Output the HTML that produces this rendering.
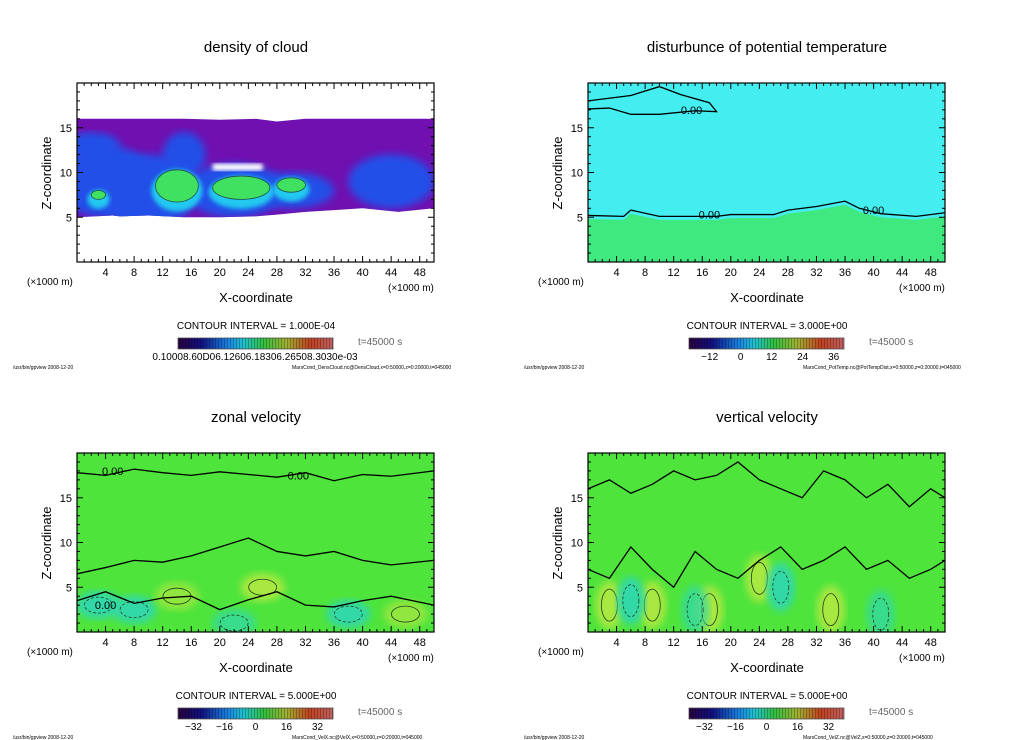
<!DOCTYPE html>
<html><head><meta charset="utf-8"><style>
html,body{margin:0;padding:0;background:#fff;}
svg{display:block;font-family:"Liberation Sans","DejaVu Sans",sans-serif;}
</style></head><body>
<svg id="fig" width="1024" height="740" viewBox="0 0 1024 740" xmlns="http://www.w3.org/2000/svg">
<defs>
<linearGradient id="cbar" x1="0" x2="1" y1="0" y2="0">
<stop offset="0" stop-color="#2a0040"/><stop offset="0.15" stop-color="#101080"/>
<stop offset="0.32" stop-color="#1880e0"/><stop offset="0.42" stop-color="#20c0d0"/>
<stop offset="0.55" stop-color="#30c040"/><stop offset="0.7" stop-color="#a0b030"/>
<stop offset="0.85" stop-color="#c04020"/><stop offset="1" stop-color="#c06060"/>
</linearGradient>
<pattern id="stripes" width="3" height="10" patternUnits="userSpaceOnUse"><rect x="2" width="1" height="10" fill="rgba(0,0,0,0.25)"/></pattern>
<filter id="blur4"><feGaussianBlur stdDeviation="4"/></filter>
<filter id="blur2"><feGaussianBlur stdDeviation="2"/></filter>
</defs>
</svg>
<script>
const xTicks=[4,8,12,16,20,24,28,32,36,40,44,48];
const yTicks=[5,10,15];
const xMin=0,xMax=50,zMin=0,zMax=20;
const panelTitles=["density of cloud","disturbunce of potential temperature","zonal velocity","vertical velocity"];
const contourIntervals=["1.000E-04","3.000E+00","5.000E+00","5.000E+00"];
const cbarLabels=[["0.1000E-03"],["-12","0","12","24","36"],["-32","-16","0","16","32"],["-32","-16","0","16","32"]];
const cbarRanges=[[0,1],[-20,40],[-40,40],[-40,40]];
const files=["MarsCond_DensCloud.nc@DensCloud","MarsCond_PotTemp.nc@PotTempDist","MarsCond_VelX.nc@VelX","MarsCond_VelZ.nc@VelZ"];
const cloudX=[0,5,6,10,15,20,25,28,32,36,40,45,50];
const cloudBot=[5,5.2,5.1,5.2,5,5,5.1,5.3,5.6,5.8,6,5.6,6];
const cloudTop=[16,16,16,16,16,15.9,16,15.7,16,16,16,16,16];
const coreX=[14,23,30,3];const coreZ=[8.5,8.3,8.6,7.5];const coreRX=[3,4,2,1];const coreRZ=[1.8,1.3,0.8,0.5];
const blueX=[4,10,15,22,30,44,2];const blueZ=[9,8,12,8,8,9,13];const blueRX=[7,7,3,7,6,6,4];const blueRZ=[4,4,2.5,3,2,3,1.5];
const ptLowX=[0,5,6,10,18,20,26,28,32,36,38,41,46,50];
const ptLowZ=[5.2,5.1,5.8,5.1,5.1,5.3,5.3,5.8,6.2,6.8,6,5.4,5.1,5.5];
const ptTopX=[0,6,10,13,17,18,15,10,6,3,0];
const ptTopZ=[18,18.6,19.6,18.7,17.8,16.8,16.9,16.5,16.5,17.2,17.1];
const uLineX=[0,4,8,12,16,20,24,28,32,36,40,44,50];
const uLineZ1=[17.8,17.5,18.2,17.8,17.5,17.9,17.6,17.3,17.8,16.9,17.6,17.4,18];
const uLineZ2=[6.5,7.2,8,7.8,8.5,9.5,10.5,9,8.5,9,8,7.5,8];
const uLineZ3=[3.5,4.5,3.2,3.8,4,2.5,3.6,4.5,3,2.8,3.5,4,3];
const uBlobX=[3,8,14,26,22,38,46];const uBlobZ=[3,2.5,4,5,1,2,2];const uBlobV=[-10,-8,6,8,-6,-8,6];
const wBlobX=[3,9,17,24,27,34,6,15,41];const wBlobZ=[3,3,2.5,6,5,2.5,3.5,2.5,2];const wBlobV=[8,10,10,10,-10,10,-8,-6,-6];
const wLineX=[0,3,6,9,12,15,18,21,24,27,30,33,36,39,42,45,48,50];
const wLineZ1=[16,17,15.5,16.5,18,17,17.5,19,17,16,15,18,17,15,16.5,14,16,15];
const wLineZ2=[7,6,9.5,7,5,9,7,6,8,9.5,7,8,9.5,7,8,6,7,8];

const svg=document.getElementById('fig');
const NS="http://www.w3.org/2000/svg";
function mk(tag,attrs,parent){const e=document.createElementNS(NS,tag);for(const k in attrs)e.setAttribute(k,attrs[k]);(parent||svg).appendChild(e);return e;}
function txt(s,x,y,size,anchor,parent){const t=mk('text',{x:x,y:y,'font-size':size,'text-anchor':anchor||'middle',fill:'#000'},parent);t.textContent=s;return t;}
const panels=[[77,83],[588,83],[77,453],[588,453]];
const PW=357,PH=179;
panels.forEach((p,i)=>{
  const [ox,oy]=p;
  const sx=v=>ox+(v-xMin)/(xMax-xMin)*PW;
  const sy=v=>oy+PH-(v-zMin)/(zMax-zMin)*PH;
  const g=mk('g',{});
  
  
  const clipId='clip'+i;
  const cp=mk('clipPath',{id:clipId},g);mk('rect',{x:ox,y:oy,width:PW,height:PH},cp);
  const plot=mk('g',{'clip-path':'url(#'+clipId+')'},g);
  
  
  const line=(xs,zs,stroke,w,dash)=>{let d='';xs.forEach((x,k)=>d+=(k?'L':'M')+sx(x)+','+sy(zs[k]));const e=mk('path',{d:d,fill:'none',stroke:stroke||'#000','stroke-width':w||1.3},plot);if(dash)e.setAttribute('stroke-dasharray',dash);
    
    return e;};
  if(i===0){
    mk('rect',{x:ox,y:oy,width:PW,height:PH,fill:'#fff'},plot);
    let d='';cloudX.forEach((x,k)=>d+=(k?'L':'M')+sx(x)+','+sy(cloudTop[k]));
    for(let k=cloudX.length-1;k>=0;k--)d+='L'+sx(cloudX[k])+','+sy(cloudBot[k]);
    const band=mk('path',{d:d+'Z',fill:'#7010b0'},plot);
    
    
    const bg=mk('g',{'clip-path':'url(#cb'+i+')'},plot);
    const cp2=mk('clipPath',{id:'cb'+i},g);mk('path',{d:d+'Z'},cp2);
    blueX.forEach((x,k)=>{const e=mk('ellipse',{cx:sx(x),cy:sy(blueZ[k]),rx:blueRX[k]*PW/50,ry:blueRZ[k]*PH/20,fill:'#2050e8',filter:'url(#blur4)'},bg);
      
      });
    mk('rect',{x:sx(19),y:sy(11),width:sx(26)-sx(19),height:sy(10.2)-sy(11),fill:'#fff',filter:'url(#blur2)'},plot);
    coreX.forEach((x,k)=>{mk('ellipse',{cx:sx(x),cy:sy(coreZ[k]-0.5),rx:coreRX[k]*PW/50+4,ry:coreRZ[k]*PH/20+5,fill:'#20c8f0',filter:'url(#blur2)'},bg);
      const e=mk('ellipse',{cx:sx(x),cy:sy(coreZ[k]),rx:coreRX[k]*PW/50,ry:coreRZ[k]*PH/20,fill:'#40e060',stroke:'#205040','stroke-width':0.8},plot);
      
      });
  } else if(i===1){
    mk('rect',{x:ox,y:oy,width:PW,height:PH,fill:'#44eef0'},plot);
    let d='M'+sx(0)+','+sy(0);ptLowX.forEach((x,k)=>d+='L'+sx(x)+','+sy(ptLowZ[k]-0.4));d+='L'+sx(50)+','+sy(0)+'Z';
    const low=mk('path',{d:d,fill:'#40e880'},plot);
    
    
    line(ptLowX,ptLowZ);line(ptTopX,ptTopZ);
    txt('0.00',sx(17),sy(5.3)+4,11,'middle',plot);txt('0.00',sx(40),sy(5.8)+4,11,'middle',plot);txt('0.00',sx(14.5),sy(17)+4,11,'middle',plot);
  } else {
    mk('rect',{x:ox,y:oy,width:PW,height:PH,fill:'#4ee43c'},plot);
    const bx=i===2?uBlobX:wBlobX,bz=i===2?uBlobZ:wBlobZ,bv=i===2?uBlobV:wBlobV;
    bx.forEach((x,k)=>{const e=mk('ellipse',{cx:sx(x),cy:sy(bz[k]),rx:i===2?22:14,ry:i===2?14:24,fill:bv[k]>0?'#a8e840':'#30d8a8',filter:'url(#blur4)',opacity:Math.min(1,Math.abs(bv[k])/8)},plot);
      
      
      mk('ellipse',{cx:sx(x),cy:sy(bz[k]),rx:i===2?14:8,ry:i===2?8:16,fill:'none',stroke:'#204020','stroke-width':0.8,'stroke-dasharray':bv[k]<0?'3,2':'none'},plot);});
    if(i===2){line(uLineX,uLineZ1);line(uLineX,uLineZ2);line(uLineX,uLineZ3);
      txt('0.00',sx(5),sy(18)+4,11,'middle',plot);txt('0.00',sx(31),sy(17.5)+4,11,'middle',plot);txt('0.00',sx(4),sy(3)+4,11,'middle',plot);}
    else{line(wLineX,wLineZ1);line(wLineX,wLineZ2);}
  }
  mk('rect',{x:ox,y:oy,width:PW,height:PH,fill:'none',stroke:'#000','stroke-width':1.2},g);
  xTicks.forEach(v=>{mk('line',{x1:sx(v),x2:sx(v),y1:oy+PH,y2:oy+PH-6,stroke:'#000'},g);mk('line',{x1:sx(v),x2:sx(v),y1:oy,y2:oy+6,stroke:'#000'},g);
    const t=txt(String(v),sx(v),oy+PH+14,11,'middle',g);
    
    });
  for(let v=1;v<50;v++){if(v%4)mk('line',{x1:sx(v),x2:sx(v),y1:oy+PH,y2:oy+PH-3,stroke:'#000'},g),mk('line',{x1:sx(v),x2:sx(v),y1:oy,y2:oy+3,stroke:'#000'},g);}
  for(let v=1;v<20;v++){const L=yTicks.includes(v)?6:3;mk('line',{x1:ox,x2:ox+L,y1:sy(v),y2:sy(v),stroke:'#000'},g);mk('line',{x1:ox+PW,x2:ox+PW-L,y1:sy(v),y2:sy(v),stroke:'#000'},g);}
  yTicks.forEach(v=>{const t=txt(String(v),ox-5,sy(v)+4,11,'end',g);
    
    });
  const tt=txt(panelTitles[i],ox+179,oy-31,15,'middle',g);
  
  
  const yl=txt('Z-coordinate',0,0,13,'middle',g);yl.setAttribute('transform','translate('+(ox-26)+','+(oy+90)+') rotate(-90)');
  
  
  const xl=txt('X-coordinate',ox+179,oy+219,13,'middle',g);
  
  
  txt('(×1000 m)',ox-50,oy+202,10,'start',g);
  txt('(×1000 m)',ox+311,oy+208,10,'start',g);
  const ci=txt('CONTOUR INTERVAL = '+contourIntervals[i],ox+179,oy+246,10,'middle',g);
  
  
  const cb=mk('rect',{x:ox+101,y:oy+255,width:155,height:11,fill:'url(#cbar)',stroke:'#555','stroke-width':0.8},g);
  
  
  mk('rect',{x:ox+101,y:oy+255,width:155,height:11,fill:'url(#stripes)'},g);
  const [cmin,cmax]=cbarRanges[i];
  if(i===0){txt('0.10008.60D06.12606.18306.26508.3030e-03',ox+178,oy+277,10,'middle',g);}
  else cbarLabels[i].forEach(s=>{const v=+s;txt(s.replace('-','−'),ox+101+(v-cmin)/(cmax-cmin)*155,oy+277,10,'middle',g);});
  txt('t=45000 s',ox+281,oy+262,10,'start',g).setAttribute('fill','#666');
  txt('/usr/bin/gpview   2008-12-20',ox-64,oy+286,5,'start',g);
  txt(files[i]+',x=0:50000,z=0:20000,t=045000',ox+215,oy+286,5,'start',g);
});
</script>
</body></html>
